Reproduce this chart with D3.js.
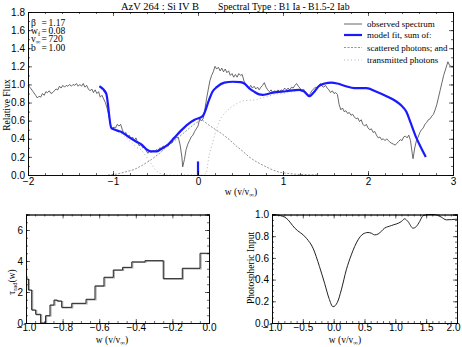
<!DOCTYPE html>
<html>
<head>
<meta charset="utf-8">
<script src="https://cdn.jsdelivr.net/npm/d3@7"></script>
<style>
  body { margin: 0; background: #fff; }
  svg { display: block; font-family: "Liberation Serif", "DejaVu Serif", serif; }
  .tick text { font-size: 10px; fill: #000; }
  .domain { stroke: #000; }
  .tick line { stroke: #000; }
</style>
</head>
<body>
<svg id="chart" width="462" height="347"></svg>
<script>
// observed spectrum [w, relative flux]
const observed = [[-2.00,0.99],[-1.97,0.96],[-1.94,0.92],[-1.91,0.88],[-1.89,0.85],[-1.87,0.87],[-1.85,0.86],[-1.83,0.90],[-1.81,0.88],[-1.79,0.92],[-1.77,0.91],[-1.75,0.93],[-1.73,0.90],[-1.71,0.91],[-1.69,0.93],[-1.67,0.95],[-1.65,0.94],[-1.63,0.98],[-1.61,0.96],[-1.59,0.99],[-1.57,0.97],[-1.55,0.99],[-1.53,0.98],[-1.51,1.00],[-1.49,0.98],[-1.47,1.00],[-1.45,0.99],[-1.43,1.01],[-1.41,0.98],[-1.39,1.00],[-1.37,0.98],[-1.35,1.01],[-1.33,0.97],[-1.31,0.99],[-1.29,0.95],[-1.27,0.93],[-1.25,0.95],[-1.23,0.91],[-1.21,0.94],[-1.19,0.90],[-1.17,0.92],[-1.15,0.86],[-1.13,0.88],[-1.11,0.84],[-1.09,0.80],[-1.07,0.74],[-1.05,0.66],[-1.03,0.56],[-1.01,0.50],[-0.99,0.53],[-0.97,0.52],[-0.95,0.56],[-0.93,0.54],[-0.91,0.56],[-0.89,0.50],[-0.87,0.45],[-0.85,0.47],[-0.83,0.42],[-0.81,0.44],[-0.79,0.40],[-0.77,0.42],[-0.75,0.38],[-0.73,0.41],[-0.71,0.36],[-0.69,0.32],[-0.67,0.34],[-0.65,0.30],[-0.63,0.31],[-0.61,0.27],[-0.59,0.24],[-0.57,0.26],[-0.55,0.25],[-0.53,0.27],[-0.51,0.26],[-0.49,0.28],[-0.47,0.27],[-0.45,0.30],[-0.43,0.29],[-0.41,0.32],[-0.39,0.31],[-0.37,0.33],[-0.35,0.32],[-0.33,0.36],[-0.31,0.35],[-0.29,0.39],[-0.27,0.40],[-0.25,0.42],[-0.23,0.41],[-0.21,0.33],[-0.19,0.20],[-0.18,0.09],[-0.16,0.17],[-0.14,0.28],[-0.12,0.34],[-0.10,0.38],[-0.08,0.42],[-0.06,0.44],[-0.04,0.48],[-0.02,0.51],[0.00,0.54],[0.02,0.62],[0.04,0.60],[0.06,0.62],[0.08,0.72],[0.10,0.84],[0.12,0.94],[0.14,1.04],[0.16,1.10],[0.18,1.14],[0.20,1.20],[0.22,1.17],[0.24,1.19],[0.26,1.15],[0.28,1.18],[0.30,1.14],[0.32,1.17],[0.34,1.13],[0.36,1.15],[0.38,1.10],[0.40,1.12],[0.42,1.08],[0.44,1.11],[0.46,1.08],[0.48,1.12],[0.50,1.10],[0.52,1.11],[0.54,1.04],[0.56,1.00],[0.58,0.97],[0.60,0.96],[0.62,0.99],[0.64,0.96],[0.66,0.98],[0.68,0.95],[0.70,0.97],[0.72,0.94],[0.74,0.97],[0.76,0.99],[0.78,1.02],[0.80,0.97],[0.82,0.94],[0.84,0.92],[0.86,0.94],[0.88,0.91],[0.90,0.93],[0.92,0.92],[0.94,0.94],[0.96,0.92],[0.98,0.94],[1.00,0.93],[1.02,0.96],[1.04,0.94],[1.06,0.96],[1.08,0.94],[1.10,0.97],[1.12,0.96],[1.14,0.99],[1.16,1.01],[1.18,0.98],[1.20,0.96],[1.22,0.93],[1.24,0.95],[1.26,0.92],[1.28,0.90],[1.30,0.88],[1.32,0.90],[1.34,0.93],[1.36,0.95],[1.38,0.97],[1.40,0.96],[1.42,0.99],[1.44,1.01],[1.46,0.98],[1.48,0.97],[1.50,0.99],[1.52,0.96],[1.54,0.94],[1.56,0.91],[1.58,0.93],[1.60,0.90],[1.62,0.91],[1.64,0.89],[1.66,0.78],[1.68,0.72],[1.70,0.74],[1.72,0.70],[1.74,0.71],[1.76,0.68],[1.78,0.69],[1.80,0.66],[1.82,0.67],[1.84,0.64],[1.86,0.62],[1.88,0.63],[1.90,0.59],[1.92,0.61],[1.94,0.56],[1.96,0.54],[1.98,0.56],[2.00,0.52],[2.02,0.50],[2.04,0.51],[2.06,0.47],[2.08,0.48],[2.10,0.44],[2.12,0.41],[2.14,0.42],[2.16,0.39],[2.18,0.40],[2.20,0.38],[2.22,0.40],[2.24,0.38],[2.26,0.36],[2.28,0.35],[2.30,0.34],[2.32,0.33],[2.34,0.35],[2.36,0.37],[2.38,0.39],[2.40,0.38],[2.42,0.42],[2.44,0.43],[2.46,0.41],[2.48,0.44],[2.50,0.38],[2.52,0.24],[2.53,0.18],[2.55,0.30],[2.57,0.38],[2.59,0.42],[2.61,0.47],[2.63,0.50],[2.65,0.52],[2.67,0.56],[2.69,0.58],[2.71,0.61],[2.73,0.62],[2.75,0.65],[2.77,0.67],[2.79,0.72],[2.81,0.78],[2.83,0.86],[2.85,0.94],[2.87,1.02],[2.89,1.10],[2.91,1.16],[2.93,1.22],[2.94,1.25],[2.96,1.21],[2.98,1.20],[3.00,1.20]];

const modelFit = [[-1.16,0.98],[-1.08,0.90],[-1.02,0.52],[-0.95,0.49],[-0.89,0.47],[-0.83,0.43],[-0.73,0.37],[-0.67,0.34],[-0.60,0.28],[-0.55,0.26],[-0.49,0.26],[-0.43,0.29],[-0.36,0.33],[-0.28,0.41],[-0.20,0.49],[-0.12,0.56],[-0.04,0.61],[0.055,0.65],[0.13,0.83],[0.17,0.92],[0.22,0.97],[0.31,1.02],[0.41,1.03],[0.50,1.025],[0.545,1.01],[0.60,0.96],[0.66,0.92],[0.72,0.89],[0.76,0.885],[0.82,0.895],[0.88,0.91],[1.035,0.925],[1.19,0.94],[1.25,0.92],[1.31,0.87],[1.36,0.91],[1.42,0.98],[1.49,1.01],[1.57,1.02],[1.64,1.01],[1.74,0.98],[1.84,0.96],[1.98,0.96],[2.10,0.92],[2.23,0.865],[2.32,0.82],[2.39,0.77],[2.45,0.70],[2.50,0.58],[2.56,0.43],[2.62,0.31],[2.68,0.20]];
const zeroMarker = [[0,0],[0,0.15]];

const scattered = [[-1.06,0],[-0.95,0.01],[-0.85,0.035],[-0.75,0.06],[-0.65,0.11],[-0.55,0.17],[-0.45,0.24],[-0.36,0.32],[-0.26,0.39],[-0.16,0.47],[-0.06,0.55],[0.035,0.61],[0.06,0.60],[0.13,0.55],[0.21,0.50],[0.29,0.45],[0.37,0.39],[0.45,0.32],[0.53,0.26],[0.60,0.20],[0.68,0.15],[0.78,0.10],[0.88,0.055],[0.96,0.03],[1.035,0.02],[1.15,0.008],[1.30,0.002],[1.40,0]];

const transmitted = [[-1.16,0.98],[-1.08,0.89],[-1.02,0.52],[-0.95,0.48],[-0.89,0.45],[-0.83,0.40],[-0.73,0.31],[-0.67,0.28],[-0.62,0.22],[-0.57,0.15],[-0.51,0.07],[-0.46,0.02],[-0.40,0.003],[-0.36,0],[0.06,0],[0.10,0.02],[0.13,0.22],[0.16,0.32],[0.19,0.42],[0.23,0.54],[0.27,0.63],[0.33,0.70],[0.39,0.75],[0.46,0.79],[0.53,0.82],[0.60,0.825],[0.68,0.83],[0.74,0.85],[0.80,0.865],[0.86,0.88],[0.92,0.895],[1.035,0.905],[1.19,0.935],[1.25,0.915],[1.31,0.87],[1.36,0.91],[1.42,0.98],[1.49,1.01],[1.57,1.02],[1.64,1.01],[1.74,0.98],[1.84,0.96],[1.98,0.96],[2.10,0.92],[2.23,0.865],[2.32,0.82],[2.39,0.77],[2.45,0.70],[2.50,0.58],[2.56,0.43],[2.62,0.31],[2.68,0.20]];

// tau_rad step function: bin edges and values
const tauEdges = [-1.0,-0.987,-0.969,-0.947,-0.92,-0.893,-0.869,-0.847,-0.829,-0.805,-0.75,-0.672,-0.623,-0.574,-0.523,-0.472,-0.422,-0.35,-0.25,-0.146,-0.049,0.0];
const tauValues = [2.84,2.13,0.84,0.56,0.0,0.47,1.16,1.48,1.42,1.01,1.27,1.53,2.39,2.95,3.42,3.59,3.94,4.02,2.86,3.53,4.5];

// photospheric input
const photW = [-1.0,-0.90,-0.77,-0.63,-0.44,-0.335,-0.23,-0.147,-0.076,-0.01,0.06,0.124,0.205,0.286,0.395,0.476,0.557,0.61,0.664,0.72,0.826,0.935,1.097,1.15,1.205,1.286,1.34,1.394,1.448,1.53,1.637,1.745,1.826,2.0];
const photF = [1.0,0.994,0.967,0.874,0.78,0.69,0.52,0.366,0.228,0.15,0.19,0.305,0.49,0.628,0.766,0.82,0.834,0.828,0.812,0.82,0.874,0.898,0.935,0.96,0.935,0.874,0.889,0.935,0.988,1.0,1.0,0.976,0.951,0.957];

const statLines = [["β", "1.17"], ["w", "0.08", "f"], ["v", "720", "∞"], ["b", "1.00"]];
const legendItems = [
  { label: "observed spectrum", color: "#555", width: 0.9, dash: null },
  { label: "model fit, sum of:", color: "#1a1aff", width: 2.2, dash: null },
  { label: " scattered photons; and", color: "#888", width: 0.9, dash: "2,1.5" },
  { label: " transmitted photons", color: "#aaa", width: 0.9, dash: "1,2.5" }
];

const svg = d3.select('#chart');

// inner ticks on all four sides, like the original plot
function frame(g, x, y, w, h, o) {
  g.append('g').attr('transform', `translate(0,${h})`)
    .call(d3.axisBottom(x).tickValues(o.xMinor).tickSize(-2).tickFormat(''));
  g.append('g').attr('class', 'xlab').attr('transform', `translate(0,${h})`)
    .call(d3.axisBottom(x).tickValues(o.xMajor).tickSize(-4).tickPadding(o.pad).tickFormat(o.xFmt));
  g.append('g').call(d3.axisTop(x).tickValues(o.xMinor).tickSize(-2).tickFormat(''));
  g.append('g').call(d3.axisTop(x).tickValues(o.xMajor).tickSize(-4).tickFormat(''));
  g.append('g').call(d3.axisLeft(y).tickValues(o.yMinor).tickSize(-2).tickFormat(''));
  g.append('g').call(d3.axisLeft(y).tickValues(o.yMajor).tickSize(-4).tickPadding(3).tickFormat(o.yFmt));
  g.append('g').attr('transform', `translate(${w},0)`)
    .call(d3.axisRight(y).tickValues(o.yMinor).tickSize(-2).tickFormat(''));
  g.append('g').attr('transform', `translate(${w},0)`)
    .call(d3.axisRight(y).tickValues(o.yMajor).tickSize(-4).tickFormat(''));
  g.selectAll('.domain').attr('stroke-width', 0.8);
  g.selectAll('.tick line').attr('stroke-width', 0.6);
}

const steps = (a, b, s) => d3.range(Math.round((b - a) / s) + 1).map(i => +(a + i * s).toFixed(4));
const minus = s => s.replace('-', '−');

// ---- top panel ----
const T = { left: 28, top: 12, w: 425, h: 163 };
const xT = d3.scaleLinear().domain([-2, 3]).range([0, T.w]);
const yT = d3.scaleLinear().domain([0, 1.8]).range([T.h, 0]);
const gT = svg.append('g').attr('transform', `translate(${T.left},${T.top})`);

const lineT = d3.line().x(d => xT(d[0])).y(d => yT(d[1]));
gT.append('path').datum(scattered).attr('d', lineT)
  .attr('fill', 'none').attr('stroke', '#888').attr('stroke-width', 0.9).attr('stroke-dasharray', '2,1.5');
gT.append('path').datum(transmitted).attr('d', lineT)
  .attr('fill', 'none').attr('stroke', '#aaa').attr('stroke-width', 0.9).attr('stroke-dasharray', '1,2.5');
gT.append('path').datum(observed).attr('d', lineT)
  .attr('fill', 'none').attr('stroke', '#444').attr('stroke-width', 0.8);
gT.append('path').datum(modelFit).attr('d', lineT.curve(d3.curveMonotoneX))
  .attr('fill', 'none').attr('stroke', '#1a1aff').attr('stroke-width', 2.2);
gT.append('path').datum(zeroMarker).attr('d', d3.line().x(d => xT(d[0])).y(d => yT(d[1])))
  .attr('fill', 'none').attr('stroke', '#1a1aff').attr('stroke-width', 2.2);

frame(gT, xT, yT, T.w, T.h, {
  xMajor: steps(-2, 3, 1), xMinor: steps(-2, 3, 0.2), xFmt: d => minus(d3.format('d')(d)), pad: 3,
  yMajor: steps(0, 1.8, 0.2), yMinor: steps(0, 1.8, 0.1), yFmt: d3.format('.1f')
});

// legend
const lg = gT.append('g');
legendItems.forEach((it, i) => {
  const ly = [12, 23, 35.5, 48][i];
  lg.append('line').attr('x1', 316).attr('x2', 334).attr('y1', ly).attr('y2', ly)
    .attr('stroke', it.color).attr('stroke-width', it.width).attr('stroke-dasharray', it.dash);
  lg.append('text').attr('x', 339).attr('y', ly + 3).attr('font-size', 9).text(it.label);
});

// fit parameters
const statY = [13.5, 21.5, 30, 38.5];
statLines.forEach((s, i) => {
  const t = gT.append('text').attr('x', 3).attr('y', statY[i]).attr('font-size', 9.5);
  t.append('tspan').text(s[0]);
  if (s[2]) t.append('tspan').attr('font-size', 6.5).attr('dy', 2).text(s[2]);
  gT.append('text').attr('x', 13.5).attr('y', statY[i]).attr('font-size', 9.5).text('=');
  gT.append('text').attr('x', 20.5).attr('y', statY[i]).attr('font-size', 9.5).text(s[1]);
});

svg.append('text').attr('x', 121).attr('y', 9.5).attr('font-size', 10.5).text('AzV 264 : Si IV B');
svg.append('text').attr('x', 218).attr('y', 9.5).attr('font-size', 9.7).text('Spectral Type : B1 Ia - B1.5-2 Iab');

svg.append('text').attr('transform', 'translate(10,105) rotate(-90)').attr('text-anchor', 'middle')
  .attr('font-size', 9.5).text('Relative Flux');

function xLabel(cx, cy) {
  const t = svg.append('text').attr('x', cx).attr('y', cy).attr('text-anchor', 'middle').attr('font-size', 9.5);
  t.append('tspan').text('w (v/v');
  t.append('tspan').attr('font-size', 6.5).attr('dy', 2).text('∞');
  t.append('tspan').attr('dy', -2).text(')');
}
xLabel(241, 195);

// ---- bottom left: tau_rad ----
const L = { left: 26, top: 214.5, w: 183, h: 108.5 };
const xL = d3.scaleLinear().domain([-1, 0]).range([0, L.w]);
const yL = d3.scaleLinear().domain([0, 7]).range([L.h, 0]);
const gL = svg.append('g').attr('transform', `translate(${L.left},${L.top})`);
const tauPts = tauEdges.map((e, i) => [e, i < tauValues.length ? tauValues[i] : tauValues[tauValues.length - 1]]);
const stepLine = d3.line().x(d => xL(d[0])).y(d => yL(d[1])).curve(d3.curveStepAfter);
gL.append('path').datum(tauPts).attr('d', stepLine).attr('transform', 'translate(1,0.5)')
  .attr('fill', 'none').attr('stroke', '#aaa').attr('stroke-width', 1.2);
gL.append('path').datum(tauPts).attr('d', stepLine)
  .attr('fill', 'none').attr('stroke', '#222').attr('stroke-width', 1);
frame(gL, xL, yL, L.w, L.h, {
  xMajor: steps(-1, 0, 0.2), xMinor: steps(-1, 0, 0.05), xFmt: d => minus(d3.format('.1f')(d)), pad: 1,
  yMajor: steps(0, 6, 2), yMinor: steps(0, 7, 0.5), yFmt: d3.format('d')
});
const tl = svg.append('text').attr('transform', 'translate(15,282) rotate(-90)').attr('text-anchor', 'middle').attr('font-size', 9.5);
tl.append('tspan').text('τ');
tl.append('tspan').attr('font-size', 6.5).attr('dy', 2).text('rad');
tl.append('tspan').attr('dy', -2).text('(w)');
xLabel(112, 343);

// ---- bottom right: photospheric input ----
const R = { left: 272, top: 214.5, w: 185, h: 108.5 };
const xR = d3.scaleLinear().domain([-1, 2]).range([0, R.w]);
const yR = d3.scaleLinear().domain([0, 1]).range([R.h, 0]);
const gR = svg.append('g').attr('transform', `translate(${R.left},${R.top})`);
gR.append('path').datum(photW.map((w, i) => [w, photF[i]]))
  .attr('d', d3.line().x(d => xR(d[0])).y(d => yR(d[1])).curve(d3.curveMonotoneX))
  .attr('fill', 'none').attr('stroke', '#222').attr('stroke-width', 1);
frame(gR, xR, yR, R.w, R.h, {
  xMajor: steps(-1, 2, 0.5), xMinor: steps(-1, 2, 0.1), xFmt: d => minus(d3.format('.1f')(d)), pad: 1,
  yMajor: steps(0, 1, 0.2), yMinor: steps(0, 1, 0.05), yFmt: d3.format('.1f')
});
// keep the last tick label inside the window
gR.selectAll('.xlab .tick text').filter(d => d === 2).attr('dx', -4);
svg.append('text').attr('transform', 'translate(254,268) rotate(-90)').attr('text-anchor', 'middle')
  .attr('font-size', 9.5).text('Photospheric Input');
xLabel(345, 343);
</script>
</body>
</html>
